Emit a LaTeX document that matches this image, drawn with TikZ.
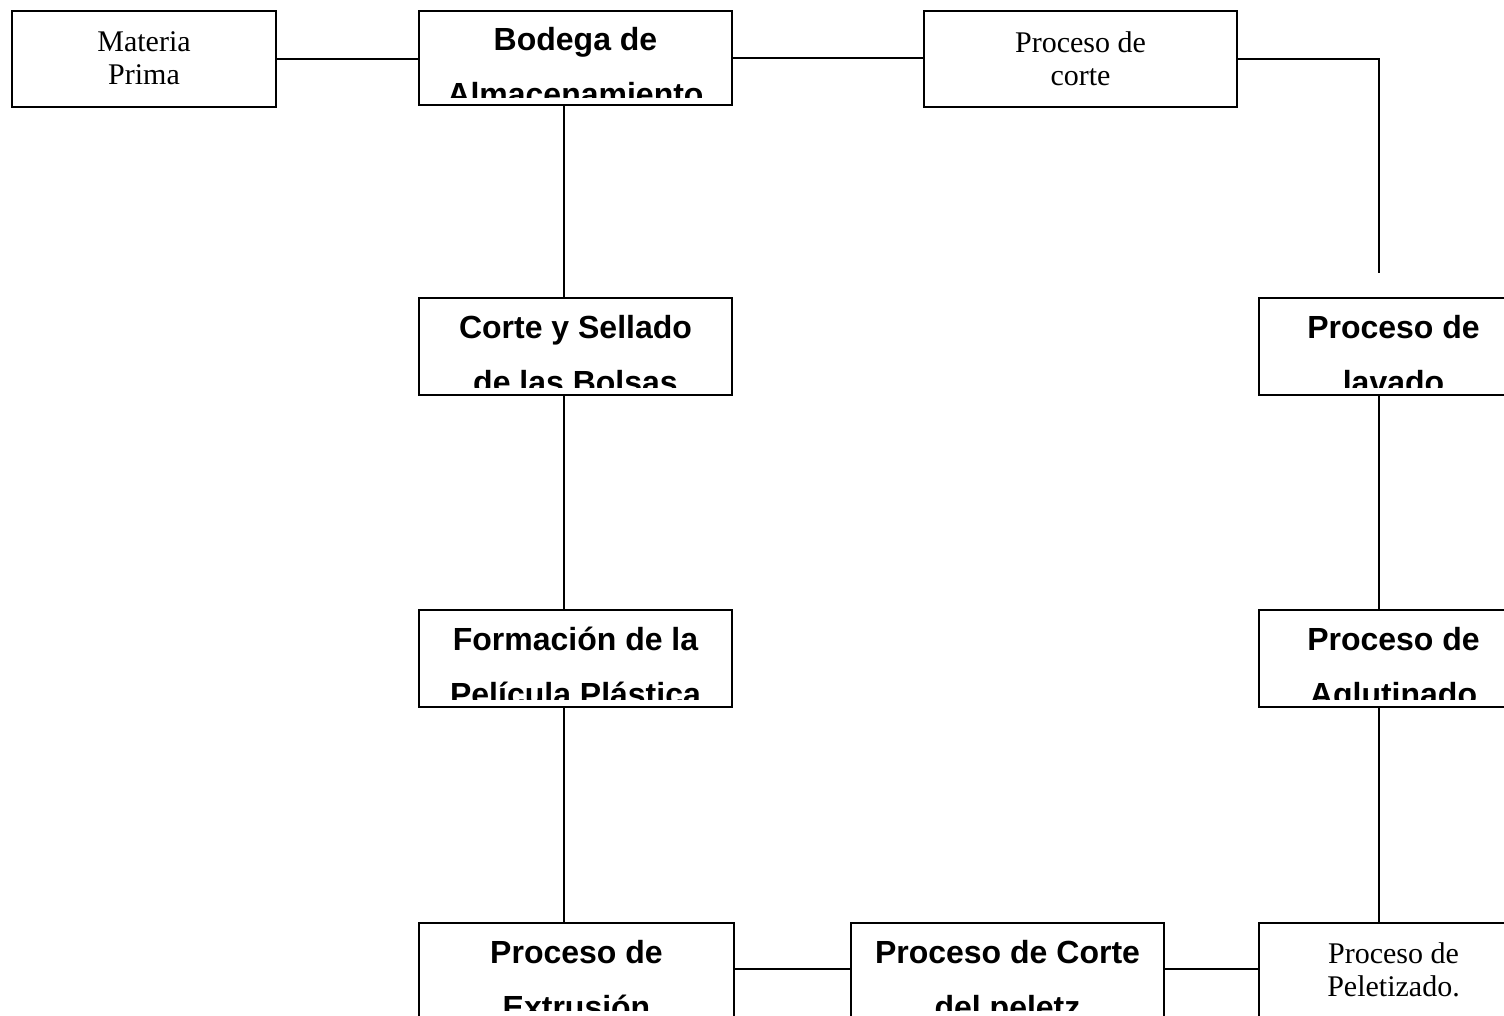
\documentclass[tikz,border=0pt]{standalone}
\usepackage{fontspec}
\setmainfont{Liberation Serif}
\newfontfamily\sansf{Liberation Sans}
\begin{document}
\begin{tikzpicture}[x=1pt,y=-1pt,
  box/.style={draw, line width=2pt, inner sep=0pt, anchor=north west, minimum height=96pt},
  ln/.style={line width=2pt},
  bt/.style={font=\sansf\bfseries\fontsize{32}{55}\selectfont, align=center, anchor=north, inner sep=0pt},
  st/.style={font=\fontsize{30}{33}\selectfont, align=center, anchor=north, inner sep=0pt}]
\useasboundingbox (0,0) rectangle (1504,1015);
\clip (0,0) rectangle (1504,1015);

\node[box, minimum width=264pt] (materia) at (11,10) {};
\node[box, minimum width=313pt, minimum height=94pt] (bodega) at (418,10) {};
\node[box, minimum width=313pt] (corte) at (923,10) {};
\node[box, minimum width=313pt, minimum height=97pt] (sellado) at (418,297) {};
\node[box, minimum width=269pt, minimum height=97pt] (lavado) at (1258,297) {};
\node[box, minimum width=313pt, minimum height=97pt] (formacion) at (418,609) {};
\node[box, minimum width=269pt, minimum height=97pt] (aglutinado) at (1258,609) {};
\node[box, minimum width=315pt, minimum height=96pt] (extrusion) at (418,922) {};
\node[box, minimum width=313pt, minimum height=96pt] (cortepel) at (850,922) {};
\node[box, minimum width=269pt, minimum height=96pt] (peletizado) at (1258,922) {};

\node[st] (tmateria) at ([yshift=-21pt]materia.north) {Materia\\Prima};
\node[st] (tcorte) at ([yshift=-21pt]corte.north) {Proceso de\\corte};
\node[st] (tpeletizado) at ([yshift=-20pt]peletizado.north) {Proceso de\\Peletizado.};

\begin{scope}
\clip (bodega.north west) rectangle ([yshift=9pt]bodega.south east);
\node[bt] (tbodega) at ([yshift=-17pt]bodega.north) {Bodega de\\Almacenamiento};
\end{scope}
\begin{scope}
\clip (sellado.north west) rectangle ([yshift=9pt]sellado.south east);
\node[bt] (tsellado) at ([yshift=-18pt]sellado.north) {Corte y Sellado\\de las Bolsas};
\end{scope}
\begin{scope}
\clip (lavado.north west) rectangle ([yshift=9pt]lavado.south east);
\node[bt] (tlavado) at ([yshift=-18pt]lavado.north) {Proceso de\\lavado};
\end{scope}
\begin{scope}
\clip (formacion.north west) rectangle ([yshift=9pt]formacion.south east);
\node[bt] (tformacion) at ([yshift=-18pt]formacion.north) {Formación de la\\Película Plástica};
\end{scope}
\begin{scope}
\clip (aglutinado.north west) rectangle ([yshift=9pt]aglutinado.south east);
\node[bt] (taglutinado) at ([yshift=-18pt]aglutinado.north) {Proceso de\\Aglutinado};
\end{scope}
\begin{scope}
\clip (extrusion.north west) rectangle ([yshift=10pt]extrusion.south east);
\node[bt] (textrusion) at ([yshift=-18pt]extrusion.north) {Proceso de\\Extrusión};
\end{scope}
\begin{scope}
\clip (cortepel.north west) rectangle ([yshift=10pt]cortepel.south east);
\node[bt] (tcortepel) at ([yshift=-18pt]cortepel.north) {Proceso de Corte\\del peletz};
\end{scope}

\coordinate (lx) at (564,0);
\coordinate (rx) at (1379,0);
\coordinate (rend) at (1379,273);
\coordinate (by) at (0,969);

\draw[ln] (materia.east) -- (materia.east -| bodega.west);
\draw[ln] (bodega.east) -- (bodega.east -| corte.west);
\draw[ln] (corte.east) -| (rend);
\draw[ln] (bodega.south -| lx) -- (sellado.north -| lx);
\draw[ln] (sellado.south -| lx) -- (formacion.north -| lx);
\draw[ln] (formacion.south -| lx) -- (extrusion.north -| lx);
\draw[ln] (lavado.south -| rx) -- (aglutinado.north -| rx);
\draw[ln] (aglutinado.south -| rx) -- (peletizado.north -| rx);
\draw[ln] (extrusion.east |- by) -- (cortepel.west |- by);
\draw[ln] (cortepel.east |- by) -- (peletizado.west |- by);
\end{tikzpicture}
\end{document}
